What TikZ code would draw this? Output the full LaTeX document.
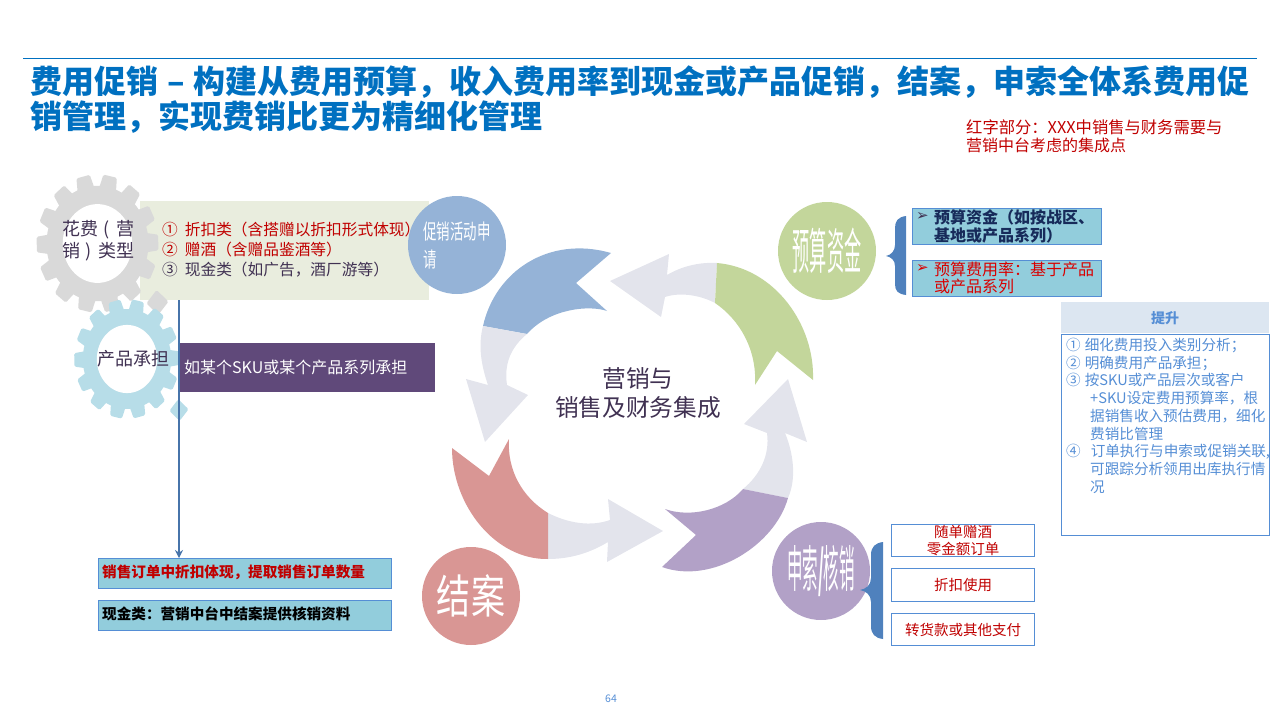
\documentclass[tikz,border=0pt]{standalone}
\usepackage{fontspec}
\setmainfont{Noto Sans CJK SC}
\newfontfamily\symfont{DejaVu Sans}
\usetikzlibrary{arrows.meta}
\definecolor{titleblue}{HTML}{0070C0}
\definecolor{darkred}{HTML}{C00000}
\definecolor{inkpurple}{HTML}{403152}
\definecolor{inknavy}{HTML}{172B5A}
\definecolor{cellblue}{HTML}{92CDDC}
\definecolor{edgeblue}{HTML}{558ED5}
\definecolor{braceblue}{HTML}{4F81BD}
\definecolor{ringgray}{HTML}{E3E4EC}
\definecolor{discblue}{HTML}{95B3D7}
\definecolor{discgreen}{HTML}{C3D69B}
\definecolor{discpurple}{HTML}{B2A1C7}
\definecolor{discred}{HTML}{D99694}
\definecolor{gearsilver}{HTML}{D9D9D9}
\definecolor{gearcyan}{HTML}{B7DDE8}
\definecolor{typefill}{HTML}{E9EDDE}
\definecolor{unitfill}{HTML}{60497A}
\definecolor{headfill}{HTML}{DCE6F1}
\newcommand{\fsz}[1]{\fontsize{#1}{#1}\selectfont}
\newcommand{\narrow}[2]{\scalebox{#1}[1]{#2}}
% gear: x, y, xscale, yscale, colour
\newcommand{\gearwheel}[5]{
  \begin{scope}[shift={(#1,#2)},xscale=#3,yscale=#4]
    \fill[#5] (0,0) circle (52);
    \foreach \a in {0,...,13}
      \fill[#5,rotate=78+\a*25.714,rounded corners=1.5pt] (48,-9) -- (62,-7) -- (62,7) -- (48,9) -- cycle;
    \fill[#5,rotate=-41,rounded corners=1.5pt] (73,-8) -- (89,-8) -- (89,8) -- (73,8) -- cycle;
    \fill[white] (0,0) circle (35.5);
  \end{scope}}
\tikzset{
  x=1pt,y=-1pt,
  disc/.style={circle,minimum size=98pt,inner sep=0pt,text=white},
  cellbox/.style={draw=edgeblue,line width=1pt,fill=cellblue,inner sep=0pt,anchor=north west},
  redbox/.style={draw=edgeblue,line width=1pt,fill=white,inner sep=0pt,anchor=north west,
    text=darkred,align=center,font=\fsz{14.5},minimum width=143pt},
  tag/.style={inner sep=0pt,anchor=west,align=left},
  bracefill/.style={fill=braceblue},
  ringarrow/.style={fill=ringgray}
}
\begin{document}
\begin{tikzpicture}
  \useasboundingbox (0,0) rectangle (1280,720);
  % title
  \coordinate (ruleL) at (23,58.5); \coordinate (ruleR) at (1257,58.5);
  \draw[titleblue,line width=.8pt] (ruleL) -- (ruleR);
  \node[tag,text=titleblue,font=\fsz{32}\bfseries] (title1) at (30,82) {费用促销\hspace{9pt}–\hspace{9pt}构建从费用预算，收入费用率到现金或产品促销，结案，申索全体系费用促};
  \node[tag,text=titleblue,font=\fsz{32}\bfseries] (title2) at (30,117) {销管理，实现费销比更为精细化管理};
  \node[tag,text=darkred,font=\fsz{16.3}] (note1) at (966,127) {红字部分：XXX中销售与财务需要与};
  \node[tag,text=darkred,font=\fsz{16}] (note2) at (966,145) {营销中台考虑的集成点};

  % left side
  \node[inner sep=0pt,fill=typefill,anchor=north west,minimum width=289pt,minimum height=99pt] (typeBox) at (140,201) {};
  \gearwheel{97.5}{243.5}{.98}{1.11}{gearsilver}
  \node[font=\fsz{18},text=inkpurple,align=center,inner sep=0pt] (typeGear) at (98,241) {花费\makebox[18pt]{(}营\\[2pt]销\makebox[18pt]{)}类型};
  \gearwheel{127}{359}{.85}{.96}{gearcyan}
  \node[font=\fsz{18},text=inkpurple,inner sep=0pt] (unitGear) at (133,359) {产品承担};
  \node[inner sep=0pt,fill=unitfill,anchor=north west,minimum width=255pt,minimum height=49pt] (unitBox) at (180,343) {};
  \node[tag,text=white,font=\fsz{16}] (unitText) at (184,367) {如某个SKU或某个产品系列承担};
  \node[tag,text=darkred,font=\fsz{15.7}] (type1) at (162,230) {①\hspace{7pt}折扣类（含搭赠以折扣形式体现）};
  \node[tag,text=darkred,font=\fsz{15.7}] (type2) at (162,250) {②\hspace{7pt}赠酒（含赠品鉴酒等）};
  \node[tag,text=inkpurple,font=\fsz{15.7}] (type3) at (162,270) {③\hspace{7pt}现金类（如广告，酒厂游等）};

  \node[cellbox,minimum width=293pt,minimum height=30pt] (orderBox) at (98,558) {};
  \node[tag,text=darkred,font=\fsz{14.6}\bfseries] (orderText) at (102,572) {销售订单中折扣体现，提取销售订单数量};
  \node[cellbox,minimum width=293pt,minimum height=30pt] (cashBox) at (98,600) {};
  \node[tag,text=black,font=\fsz{14.6}\bfseries] (cashText) at (102,614) {现金类：营销中台中结案提供核销资料};
  \coordinate (lineTop) at (179,300);
  \draw[-{Stealth[length=8pt,width=8pt]},braceblue!90!black,line width=1.2pt] (lineTop) -- (lineTop |- orderBox.north);

  % ring of arrows
  \fill[discblue] (483,326) .. controls (495,272) and (548,235) .. (611,253) -- (576,283)
    -- (607,311) .. controls (590,305) and (550,308) .. (527,334) -- cycle;
  \fill[ringarrow] (717,263) .. controls (700,262) and (682,266) .. (667,275) -- (669,254) -- (610,281)
    -- (661,317) -- (665,297) .. controls (680,292) and (700,295) .. (715,303) -- cycle;
  \fill[discgreen] (717,263) .. controls (775,268) and (815,325) .. (813,380) -- (777,351)
    -- (755,385) .. controls (757,350) and (740,320) .. (715,303) -- cycle;
  \fill[ringarrow] (788,498) .. controls (797,478) and (793,452) .. (785,433) -- (807,442) -- (788,379)
    -- (744,424) -- (767,433) .. controls (770,455) and (760,475) .. (743,489) -- cycle;
  \fill[discpurple] (788,498) .. controls (775,545) and (712,585) .. (662,567) -- (696,535)
    -- (665,509) .. controls (690,518) and (725,510) .. (743,489) -- cycle;
  \fill[ringarrow] (548,559) .. controls (570,559) and (590,553) .. (608,542) -- (607,562) -- (663,531)
    -- (608,499) -- (610,520) .. controls (590,527) and (568,523) .. (548,513) -- cycle;
  \fill[discred] (548,559) .. controls (495,560) and (452,505) .. (452,448) -- (489,476)
    -- (509,439) .. controls (507,470) and (522,497) .. (548,513) -- cycle;
  \fill[ringarrow] (483,326) .. controls (478,345) and (481,365) .. (488,385) -- (466,379) -- (485,442)
    -- (528,395) -- (507,385) .. controls (504,365) and (510,348) .. (527,334) -- cycle;
  \node[font=\fsz{23.7},text=inkpurple,align=center,inner sep=0pt] (hub) at (638,393) {营销与\\[5pt]销售及财务集成};

  % circles
  \node[disc,fill=discblue,align=left,font=\fsz{21}] (applyDisc) at (457,245) {\narrow{.64}{促销活动申}\\[7pt]\narrow{.64}{请}\hspace{50pt}};
  \node[disc,fill=discgreen,font=\fsz{49}] (budgetDisc) at (827,251) {\narrow{.35}{预算资金}};
  \node[disc,fill=discpurple,font=\fsz{50}] (claimDisc) at (821,571) {\narrow{.31}{申索\textbf{/}核销}};
  \node[disc,fill=discred,font=\fsz{46}] (closeDisc) at (471,596) {\narrow{.74}{结案}};

  % budget side
  \fill[bracefill] (906,216) .. controls (898,217) and (895,221) .. (895,228) -- (895,245)
    .. controls (895,251) and (891,255) .. (886,256) .. controls (891,257) and (895,260) .. (895,266) -- (895,284)
    .. controls (895,291) and (898,294) .. (906,295) -- cycle;
  \node[cellbox,minimum width=189pt,minimum height=36pt] (fundBox) at (911.5,208) {};
  \node[tag,text=inkpurple,font=\fsz{15}\symfont] (fundMark) at (916,216) {➢};
  \node[tag,text=inknavy,font=\fsz{16}\bfseries] (fundText1) at (934,217) {预算资金（如按战区、};
  \node[tag,text=inknavy,font=\fsz{16}\bfseries] (fundText2) at (934,235) {基地或产品系列）};
  \node[cellbox,minimum width=189pt,minimum height=36pt] (rateBox) at (911.5,260) {};
  \node[tag,text=red!85!black,font=\fsz{15}\symfont] (rateMark) at (916,268) {➢};
  \node[tag,text=red!85!black,font=\fsz{16}] (rateText1) at (934,269) {预算费用率：基于产品};
  \node[tag,text=red!85!black,font=\fsz{16}] (rateText2) at (934,286) {或产品系列};

  % gain panel
  \node[inner sep=0pt,fill=headfill,anchor=north west,minimum width=208pt,minimum height=31pt,
    text=edgeblue,font=\fsz{14}\bfseries] (gainHead) at (1061,302) {提升};
  \node[draw=edgeblue,line width=1pt,inner sep=0pt,anchor=north west,minimum width=208pt,minimum height=201pt] (gainBox) at (1061,334) {};
  \node[inner sep=0pt,anchor=north west,align=left,text=edgeblue,font=\fontsize{14.6}{17.7}\selectfont] (gainText) at (1066,338) {
    ①\hspace{4pt}细化费用投入类别分析；\\
    ②\hspace{4pt}明确费用产品承担；\\
    ③\hspace{4pt}按SKU或产品层次或客户\\
    \hspace{24pt}+SKU设定费用预算率，根\\
    \hspace{24pt}据销售收入预估费用，细化\\
    \hspace{24pt}费销比管理\\
    ④\hspace{10pt}订单执行与申索或促销关联,\\
    \hspace{24pt}可跟踪分析领用出库执行情\\
    \hspace{24pt}况};

  % claim side
  \fill[bracefill] (883,542) .. controls (875,543) and (871,547) .. (871,555) -- (871,578)
    .. controls (871,585) and (866,589) .. (860,590) .. controls (866,591) and (871,595) .. (871,602) -- (871,626)
    .. controls (871,634) and (875,638) .. (883,639) -- cycle;
  \node[redbox,minimum height=32pt] (giftBox) at (891,524) {随单赠酒\\[2pt]零金额订单};
  \node[redbox,minimum height=33pt] (rebateBox) at (891,568) {折扣使用};
  \node[redbox,minimum height=32pt] (payBox) at (891,613) {转货款或其他支付};

  \node[font=\fsz{10.5},text=edgeblue,inner sep=0pt] (pageNo) at (611,699) {64};
\end{tikzpicture}
\end{document}
